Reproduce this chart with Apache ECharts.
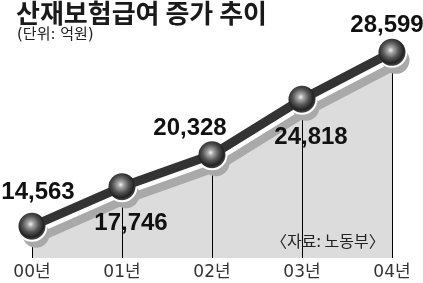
<!DOCTYPE html>
<html><head><meta charset="utf-8">
<script src="https://cdn.jsdelivr.net/npm/echarts@6/dist/echarts.min.js"></script>
<style>html,body{margin:0;padding:0;background:#fff}#c{width:423px;height:283px}</style>
</head><body><div id="c"></div>
<script>
const categories = ['00년', '01년', '02년', '03년', '04년'];
const values = [14563, 17746, 20328, 24818, 28599];
const titleText = '산재보험급여 증가 추이';
const unitText = '(단위: 억원)';
const sourceText = '〈자료: 노동부〉';

const yMin = 12000, yMax = 30000;
const labelOffsets = [[6, -34], [9, 37], [-22, -26], [9, 38], [-5, -27]];

const chart = echarts.init(document.getElementById('c'), null, {renderer: 'canvas'});
const ballGradient = {
  type: 'radial', x: 0.45, y: 0.42, r: 0.6,
  colorStops: [
    {offset: 0, color: '#f4f4f4'},
    {offset: 0.18, color: '#a8a8a8'},
    {offset: 0.5, color: '#555'},
    {offset: 0.8, color: '#222'},
    {offset: 0.95, color: '#444'},
    {offset: 1, color: '#999'}
  ]
};
chart.setOption({
  animation: false,
  title: [
    {text: titleText, left: 16, top: 0, padding: 0,
     textStyle: {fontFamily: 'Noto Sans CJK KR', fontWeight: 'bold', fontSize: 26, lineHeight: 27, color: '#1a1a1a'}},
    {text: unitText, left: 17, top: 28, padding: 0,
     textStyle: {fontFamily: 'DejaVu Sans, Noto Sans CJK KR', fontWeight: 'normal', fontSize: 15, color: '#222'}},
    {text: sourceText, left: 271, top: 233, padding: 0,
     textStyle: {fontFamily: 'Noto Sans CJK KR', fontWeight: 'normal', fontSize: 16, color: '#222'}}
  ],
  grid: {left: 32, right: 31, top: 35, bottom: 25, containLabel: false},
  xAxis: {
    type: 'category', data: categories, boundaryGap: false,
    axisLine: {show: false}, axisTick: {show: false}, splitLine: {show: false},
    axisLabel: {fontFamily: 'DejaVu Sans, Noto Sans CJK KR', fontSize: 17, color: '#333', margin: 6}
  },
  yAxis: {type: 'value', min: yMin, max: yMax, show: false, splitLine: {show: false}},
  series: [
    {type: 'line', data: values, symbol: 'none', z: 1,
     lineStyle: {width: 0, opacity: 0}, areaStyle: {color: '#dcdcdc', opacity: 1}},
    {type: 'custom', data: values, z: 2,
     renderItem: function (params, api) {
       const i = api.value(0);
       const top = api.coord([i, api.value(1)]);
       const bot = api.coord([i, yMin]);
       const x = Math.round(top[0]) + 0.5;
       return {type: 'line', shape: {x1: x, y1: top[1], x2: x, y2: bot[1]},
               style: {stroke: '#000', lineWidth: 1}};
     }},
    {type: 'line', data: values, symbol: 'none', z: 3,
     lineStyle: {width: 18, color: '#fff', cap: 'round', join: 'round',
                 shadowColor: '#a9a9a9', shadowOffsetX: 3, shadowOffsetY: 8, shadowBlur: 0}},
    {type: 'line', data: values, symbol: 'circle', symbolSize: 27, symbolOffset: [4, 8], z: 4,
     lineStyle: {width: 0, opacity: 0}, itemStyle: {color: '#a9a9a9'}},
    {type: 'line', data: values, symbol: 'circle', symbolSize: 31, z: 5,
     lineStyle: {width: 0, opacity: 0}, itemStyle: {color: '#fff'}},
    {type: 'line', data: values, symbol: 'none', z: 6,
     lineStyle: {width: 9, color: '#333', cap: 'butt', join: 'round'}},
    {type: 'line', data: values, symbol: 'circle', symbolSize: 27, z: 7,
     lineStyle: {width: 0, opacity: 0},
     itemStyle: {color: ballGradient, borderWidth: 0},
     label: {
       show: true, position: 'inside', color: '#111',
       fontFamily: 'Liberation Sans', fontWeight: 'bold', fontSize: 24,
       formatter: p => p.value.toLocaleString('en-US')
     },
     labelLayout: function (params) {
       const o = labelOffsets[params.dataIndex];
       const r = params.labelRect;
       return {x: params.rect.x + params.rect.width / 2 + o[0] - r.width / 2,
               y: params.rect.y + params.rect.height / 2 + o[1] - r.height / 2,
               align: 'left', verticalAlign: 'top'};
     }}
  ]
});
</script></body></html>
